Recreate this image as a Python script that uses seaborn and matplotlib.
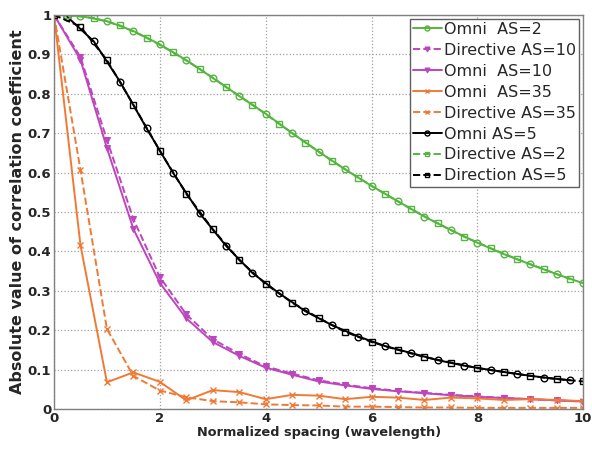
import numpy as np
import matplotlib
matplotlib.use("Agg")
import matplotlib.pyplot as plt
import seaborn as sns

# x positions (wavelengths)
x_quarter = np.arange(0, 10.001, 0.25)
x_half = np.arange(0, 10.001, 0.5)

# AS=2 curve read at quarter-wavelength steps
as2_quarter = [1.0, 0.999, 0.997, 0.992, 0.984, 0.973, 0.959, 0.942, 0.925, 0.905,
               0.885, 0.863, 0.840, 0.817, 0.794, 0.772, 0.749, 0.724, 0.700, 0.676,
               0.653, 0.630, 0.608, 0.587, 0.566, 0.546, 0.527, 0.507, 0.488, 0.471,
               0.454, 0.437, 0.422, 0.408, 0.393, 0.380, 0.367, 0.355, 0.342, 0.330, 0.319]
# AS=5 curve read at quarter-wavelength steps
as5_quarter = [1.0, 0.995, 0.970, 0.933, 0.885, 0.830, 0.772, 0.712, 0.655, 0.599,
               0.546, 0.497, 0.456, 0.414, 0.378, 0.345, 0.317, 0.294, 0.270, 0.248,
               0.231, 0.213, 0.196, 0.184, 0.170, 0.160, 0.150, 0.142, 0.132, 0.124,
               0.118, 0.110, 0.104, 0.099, 0.094, 0.089, 0.084, 0.080, 0.076, 0.073, 0.070]

omni_as10 = [1.0, 0.886, 0.662, 0.457, 0.320, 0.230, 0.170, 0.135, 0.105, 0.087, 0.070,
             0.060, 0.051, 0.045, 0.040, 0.035, 0.031, 0.028, 0.025, 0.022, 0.019]
dir_as10 = [1.0, 0.893, 0.683, 0.482, 0.335, 0.240, 0.177, 0.140, 0.108, 0.090, 0.073,
            0.062, 0.053, 0.046, 0.041, 0.036, 0.032, 0.028, 0.025, 0.022, 0.019]
omni_as35 = [1.0, 0.416, 0.068, 0.093, 0.069, 0.022, 0.048, 0.043, 0.025, 0.036, 0.034,
             0.025, 0.031, 0.029, 0.023, 0.029, 0.027, 0.023, 0.025, 0.023, 0.020]
dir_as35 = [1.0, 0.607, 0.203, 0.084, 0.047, 0.030, 0.020, 0.017, 0.012, 0.010, 0.009,
            0.006, 0.006, 0.005, 0.004, 0.004, 0.003, 0.003, 0.003, 0.003, 0.003]

x_ticks = [0, 2, 4, 6, 8, 10]
y_ticks = [0, 0.1, 0.2, 0.3, 0.4, 0.5, 0.6, 0.7, 0.8, 0.9, 1.0]
y_ticklabels = ["0", "0.1", "0.2", "0.3", "0.4", "0.5", "0.6", "0.7", "0.8", "0.9", "1"]

GREEN = "#55b540"
PURPLE = "#bd45bd"
ORANGE = "#f07a35"
BLACK = "#000000"

sns.set_style("white")
plt.rcParams['font.family'] = ['DejaVu Sans']

fig = plt.figure(figsize=(5.92, 4.49), dpi=100)
ax = fig.add_axes([0.0912, 0.089, 0.894, 0.878])

xq = np.asarray(x_quarter)
a2 = np.asarray(as2_quarter)
a5 = np.asarray(as5_quarter)

lw = 1.4
ms = 4.8

sns.lineplot(x=xq[0::2], y=a2[0::2], ax=ax, color=GREEN, linestyle="-", lw=lw,
             marker="o", markersize=ms, markerfacecolor="none", markeredgecolor=GREEN,
             markeredgewidth=1.0, label="Omni  AS=2")
sns.lineplot(x=x_half, y=dir_as10, ax=ax, color=PURPLE, linestyle="--", lw=lw,
             marker="v", markersize=ms, markeredgecolor=PURPLE, label="Directive AS=10")
sns.lineplot(x=x_half, y=omni_as10, ax=ax, color=PURPLE, linestyle="-", lw=lw,
             marker="v", markersize=ms, markeredgecolor=PURPLE, label="Omni  AS=10")
sns.lineplot(x=x_half, y=omni_as35, ax=ax, color=ORANGE, linestyle="-", lw=lw,
             marker="x", markersize=ms, markeredgecolor=ORANGE, markeredgewidth=1.0,
             label="Omni  AS=35")
sns.lineplot(x=x_half, y=dir_as35, ax=ax, color=ORANGE, linestyle="--", lw=lw,
             marker="x", markersize=ms, markeredgecolor=ORANGE, markeredgewidth=1.0,
             label="Directive AS=35")
sns.lineplot(x=xq[1::2], y=a5[1::2], ax=ax, color=BLACK, linestyle="-", lw=lw,
             marker="o", markersize=ms, markerfacecolor="none", markeredgecolor=BLACK,
             markeredgewidth=1.0, label="Omni AS=5")
sns.lineplot(x=xq[1::2], y=a2[1::2], ax=ax, color=GREEN, linestyle="--", lw=lw,
             marker="s", markersize=ms, markerfacecolor="none", markeredgecolor=GREEN,
             markeredgewidth=1.0, label="Directive AS=2")
sns.lineplot(x=xq[0::2], y=a5[0::2], ax=ax, color=BLACK, linestyle="--", lw=lw,
             marker="s", markersize=ms, markerfacecolor="none", markeredgecolor=BLACK,
             markeredgewidth=1.0, label="Direction AS=5")

ax.set_xlim(0, 10)
ax.set_ylim(0, 1)
ax.set_xticks(x_ticks)
ax.set_xticklabels([str(t) for t in x_ticks], fontsize=9.5, fontweight="bold")
ax.set_yticks(y_ticks)
ax.set_yticklabels(y_ticklabels, fontsize=9.5, fontweight="bold")
ax.tick_params(direction="in", length=4, color="#808080", pad=2)
ax.grid(True, linestyle=":", color="#a0a0a0", linewidth=0.9)
for s in ax.spines.values():
    s.set_color("#808080")
    s.set_linewidth(1.0)

ax.set_xlabel("Normalized spacing (wavelength)", fontsize=9.3, fontweight="bold", labelpad=1)
ax.set_ylabel("Absolute value of correlation coefficient", fontsize=11.5, fontweight="bold", labelpad=2)

leg = ax.legend(loc="upper right", fontsize=11.5, frameon=True, fancybox=False,
                borderaxespad=0.25, handlelength=1.8, handletextpad=0.15,
                labelspacing=0.37, borderpad=0.2, markerscale=0.75)
leg.get_frame().set_edgecolor("#606060")
leg.get_frame().set_linewidth(1.0)
leg.get_frame().set_alpha(1.0)

fig.savefig("out.png", dpi=100)
